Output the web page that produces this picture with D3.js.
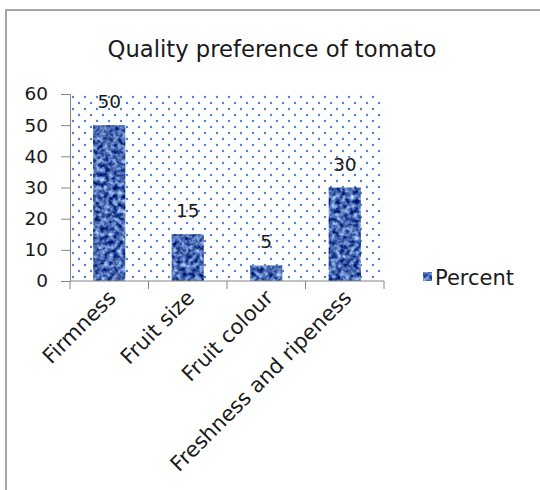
<!DOCTYPE html>
<html>
<head>
<meta charset="utf-8">
<script src="https://cdn.jsdelivr.net/npm/d3@7"></script>
<style>
  html, body { margin: 0; padding: 0; background: #fff; }
  svg { display: block; }
  text { font-family: "DejaVu Sans", Verdana, sans-serif; fill: #1a1a1a; }
</style>
</head>
<body>
<svg id="chart" width="540" height="490"></svg>
<script>
// Survey data: share of respondents naming each quality attribute
const categories = ["Firmness", "Fruit size", "Fruit colour", "Freshness and ripeness"];
const percentValues = [50, 15, 5, 30];
const yTickValues = [0, 10, 20, 30, 40, 50, 60];
const seriesName = "Percent";
const chartTitle = "Quality preference of tomato";

const svg = d3.select("#chart");
const plot = { left: 70, right: 384, top: 94, bottom: 281 };
const fontStack = "'DejaVu Sans', Verdana, sans-serif";

const defs = svg.append("defs");

// Dotted fill for the plot area
const dots = defs.append("pattern")
  .attr("id", "dots")
  .attr("patternUnits", "userSpaceOnUse")
  .attr("x", plot.left).attr("y", plot.top)
  .attr("width", 12).attr("height", 12);
dots.append("rect").attr("width", 12).attr("height", 12).attr("fill", "#ffffff");
dots.append("circle").attr("cx", 3).attr("cy", 3).attr("r", 1.2).attr("fill", "#4f82d0");
dots.append("circle").attr("cx", 9).attr("cy", 9).attr("r", 1.2).attr("fill", "#4f82d0");

// Mottled blue texture for the bars
const weave = defs.append("filter")
  .attr("id", "weave")
  .attr("color-interpolation-filters", "sRGB")
  .attr("x", 0).attr("y", 0).attr("width", 1).attr("height", 1);
weave.append("feTurbulence")
  .attr("type", "fractalNoise")
  .attr("baseFrequency", "0.22")
  .attr("numOctaves", 2)
  .attr("seed", 7)
  .attr("result", "noise");
weave.append("feColorMatrix")
  .attr("in", "noise")
  .attr("type", "matrix")
  .attr("values", "1.3 0 0 0 -0.37  1.3 0 0 0 -0.24  1.0 0 0 0 0.19  0 0 0 0 1")
  .attr("result", "tint");
weave.append("feComposite")
  .attr("in", "tint").attr("in2", "SourceGraphic").attr("operator", "in");

// Outer chart border
svg.append("rect")
  .attr("x", 6).attr("y", 10)
  .attr("width", 700).attr("height", 700)
  .attr("fill", "none")
  .attr("stroke", "#a6a6a6")
  .attr("stroke-width", 2);

// Title
svg.append("text")
  .attr("x", 272).attr("y", 57)
  .attr("text-anchor", "middle")
  .style("font-size", "22.7px")
  .text(chartTitle);

// Scales
const x = d3.scaleBand()
  .domain(categories)
  .range([plot.left, plot.right])
  .paddingInner(0.59)
  .paddingOuter(0.295);

const y = d3.scaleLinear()
  .domain([0, 60])
  .range([plot.bottom, plot.top]);

// Plot area background
svg.append("rect")
  .attr("x", plot.left).attr("y", plot.top)
  .attr("width", plot.right - plot.left)
  .attr("height", plot.bottom - plot.top)
  .attr("fill", "url(#dots)");

// Bars
svg.append("g")
  .selectAll("rect")
  .data(percentValues)
  .join("rect")
  .attr("x", (d, i) => x(categories[i]))
  .attr("y", d => y(d))
  .attr("width", x.bandwidth())
  .attr("height", d => y(0) - y(d))
  .attr("fill", "#3d5ea8")
  .attr("filter", "url(#weave)");

// Value labels above bars
svg.append("g")
  .selectAll("text")
  .data(percentValues)
  .join("text")
  .attr("x", (d, i) => x(categories[i]) + x.bandwidth() / 2)
  .attr("y", d => y(d) - 17)
  .attr("text-anchor", "middle")
  .style("font-size", "18.5px")
  .text(d => d);

// Y axis
const yAxis = svg.append("g")
  .attr("transform", `translate(${plot.left},0)`)
  .call(d3.axisLeft(y).tickValues(yTickValues).tickSize(9).tickPadding(13).tickSizeOuter(9));
yAxis.selectAll("path, line").attr("stroke", "#868686");
yAxis.selectAll("text").style("font-size", "18.5px").attr("fill", "#1a1a1a")
  .style("font-family", fontStack);

// X axis: tick marks sit on the category boundaries
const xAxisG = svg.append("g").attr("transform", `translate(0,${plot.bottom})`);
xAxisG.append("line")
  .attr("x1", plot.left).attr("x2", plot.right)
  .attr("stroke", "#868686");
const boundaries = d3.range(categories.length + 1)
  .map(i => plot.left + i * (plot.right - plot.left) / categories.length);
xAxisG.selectAll("line.tick")
  .data(boundaries)
  .join("line")
  .attr("class", "tick")
  .attr("x1", d => d).attr("x2", d => d)
  .attr("y1", 0).attr("y2", 8)
  .attr("stroke", "#868686");

// Rotated category labels
xAxisG.selectAll("text")
  .data(categories)
  .join("text")
  .attr("transform", d => `translate(${x(d) + x.bandwidth() / 2 + 8},18) rotate(-45)`)
  .attr("text-anchor", "end")
  .style("font-size", "21px")
  .text(d => d);

// Legend
const legend = svg.append("g").attr("transform", "translate(423,272)");
legend.append("rect")
  .attr("width", 9).attr("height", 9)
  .attr("fill", "#3d5ea8")
  .attr("filter", "url(#weave)");
legend.append("text")
  .attr("x", 12).attr("y", 13)
  .style("font-size", "21px")
  .text(seriesName);
</script>
</body>
</html>
